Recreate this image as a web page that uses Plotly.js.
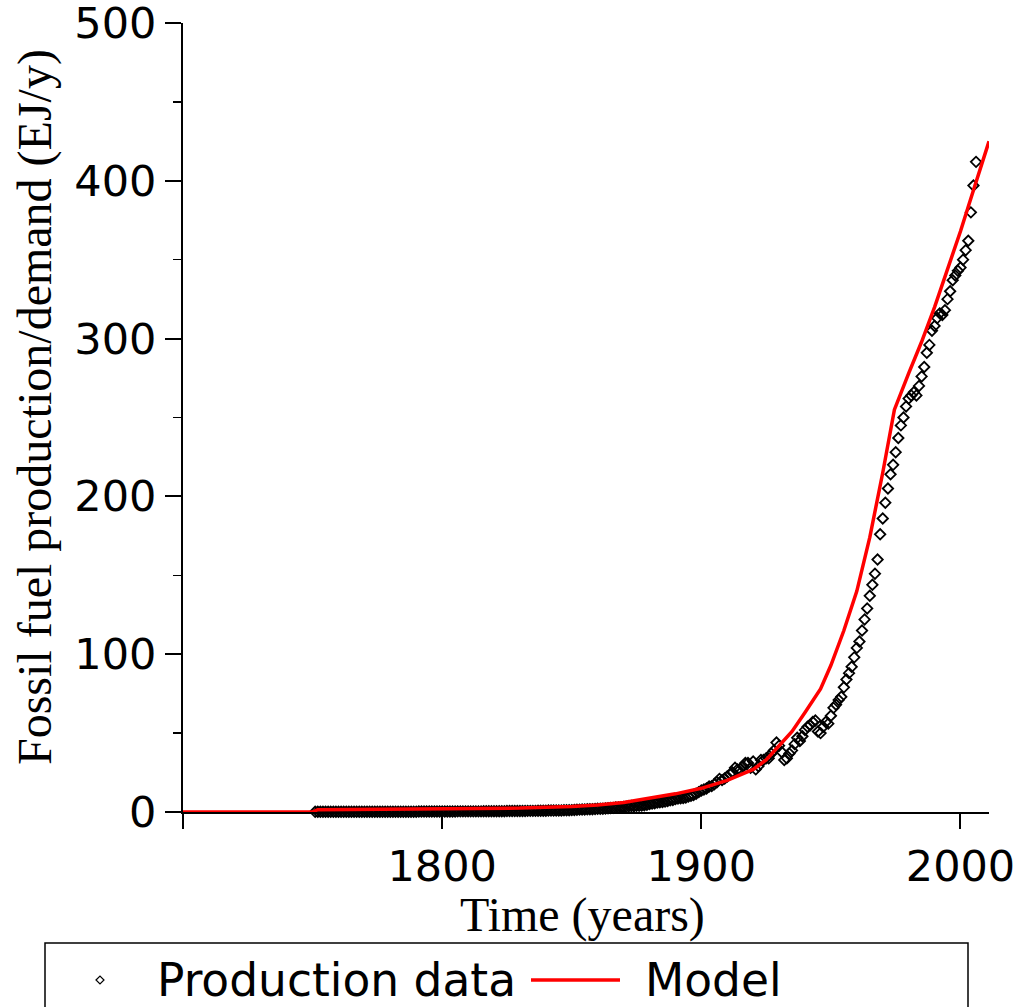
<!DOCTYPE html>
<html>
<head>
<meta charset="utf-8">
<script src="https://cdn.plot.ly/plotly-3.0.1.min.js"></script>
<style>html,body{margin:0;padding:0;background:#fff;}</style>
</head>
<body>
<div id="chart" style="width:1021px;height:1007px;"></div>
<script>
// Production data (EJ/y), annual
const prodYears = [
1751,1752,1753,1754,1755,1756,1757,1758,1759,1760,
1761,1762,1763,1764,1765,1766,1767,1768,1769,1770,
1771,1772,1773,1774,1775,1776,1777,1778,1779,1780,
1781,1782,1783,1784,1785,1786,1787,1788,1789,1790,
1791,1792,1793,1794,1795,1796,1797,1798,1799,1800,
1801,1802,1803,1804,1805,1806,1807,1808,1809,1810,
1811,1812,1813,1814,1815,1816,1817,1818,1819,1820,
1821,1822,1823,1824,1825,1826,1827,1828,1829,1830,
1831,1832,1833,1834,1835,1836,1837,1838,1839,1840,
1841,1842,1843,1844,1845,1846,1847,1848,1849,1850,
1851,1852,1853,1854,1855,1856,1857,1858,1859,1860,
1861,1862,1863,1864,1865,1866,1867,1868,1869,1870,
1871,1872,1873,1874,1875,1876,1877,1878,1879,1880,
1881,1882,1883,1884,1885,1886,1887,1888,1889,1890,
1891,1892,1893,1894,1895,1896,1897,1898,1899,1900,
1901,1902,1903,1904,1905,1906,1907,1908,1909,1910,
1911,1912,1913,1914,1915,1916,1917,1918,1919,1920,
1921,1922,1923,1924,1925,1926,1927,1928,1929,1930,
1931,1932,1933,1934,1935,1936,1937,1938,1939,1940,
1941,1942,1943,1944,1945,1946,1947,1948,1949,1950,
1951,1952,1953,1954,1955,1956,1957,1958,1959,1960,
1961,1962,1963,1964,1965,1966,1967,1968,1969,1970,
1971,1972,1973,1974,1975,1976,1977,1978,1979,1980,
1981,1982,1983,1984,1985,1986,1987,1988,1989,1990,
1991,1992,1993,1994,1995,1996,1997,1998,1999,2000,
2001,2002,2003,2004,2005,2006
];
const prodValues = [
0.1,0.1,0.1,0.1,0.1,0.1,0.1,0.1,0.1,0.1,
0.1,0.1,0.1,0.1,0.1,0.1,0.1,0.1,0.1,0.1,
0.2,0.2,0.2,0.2,0.2,0.2,0.2,0.2,0.2,0.2,
0.2,0.2,0.2,0.2,0.2,0.2,0.2,0.2,0.2,0.2,
0.3,0.3,0.3,0.3,0.3,0.3,0.3,0.3,0.3,0.3,
0.3,0.3,0.3,0.3,0.3,0.4,0.4,0.4,0.4,0.4,
0.4,0.4,0.4,0.4,0.4,0.5,0.5,0.5,0.5,0.5,
0.5,0.5,0.5,0.5,0.6,0.6,0.6,0.6,0.6,0.6,
0.6,0.6,0.7,0.7,0.7,0.7,0.8,0.8,0.8,0.8,
0.9,0.9,0.9,1.0,1.0,1.0,1.1,1.1,1.1,1.2,
1.3,1.4,1.5,1.6,1.6,1.7,1.8,1.8,1.9,2.0,
2.0,2.1,2.2,2.4,2.5,2.6,2.8,2.9,3.0,3.2,
3.4,3.6,3.8,3.7,3.9,4.0,4.1,4.3,4.6,5.0,
5.3,5.6,6.0,6.2,6.3,6.6,7.0,7.5,7.6,8.2,
8.6,8.7,8.8,9.1,9.8,10.3,10.8,11.6,12.6,13.6,
14.2,14.9,16.2,16.4,17.6,18.9,21.0,20.2,21.2,22.5,
24,25,28,27,27,29,31,31,28,32,
27,29,33,33,34,34,37,39,44,42,
38,33,34,37,39,43,47,45,48,52,
54,55,57,58,51,50,54,57,56,61,
66,68,71,73,79,84,88,92,98,104,
108,115,122,129,137,144,151,160,176,186,
196,205,214,220,228,237,245,250,257,262,
264,266,264,270,276,282,291,296,305,308,
313,316,315,318,325,330,337,340,343,345,
350,356,362,380,397,412
];

// Model curve (EJ/y)
const modelYears = [1700,1750,1752,1800,1830,1850,1860,1870,1880,1890,1900,1910,1920,1925,1930,1935,1940,1946,1950,1955,1960,1965,1970,1974.5,1980,1985,1990,1995,2000,2005,2011];
const modelValues = [0,0,1.5,2,2.5,3.5,4.4,6,8.5,11.5,15,20,27,33,42,51,63,78,93,115,140,174,215,255,278,298,320,344,368,394,425];

// Axis ticks
const xTickVals = [1700,1800,1900,2000];
const xTickText = ['','1800','1900','2000'];
const yTickVals = [0,100,200,300,400,500];
const yTickText = ['0','100','200','300','400','500'];

const seriesNames = ['Production data','Model'];
const xTitle = 'Time (years)';
const yTitle = 'Fossil fuel production/demand (EJ/y)';

const L = 183, R = 989, T = 23, B = 812;
const W = R - L, H = B - T;
const px = x => (x - L) / W;
const py = y => (B - y) / H;

const traces = [
  {
    x: prodYears, y: prodValues, name: seriesNames[0],
    type: 'scatter', mode: 'markers', cliponaxis: false,
    marker: {symbol: 'diamond-open', size: 8, color: '#000', line: {width: 1.8, color: '#000'}}
  },
  {
    x: modelYears, y: modelValues, name: seriesNames[1],
    type: 'scatter', mode: 'lines', cliponaxis: false,
    line: {color: '#ff0000', width: 3.5}
  }
];

const tickFont = {family: 'DejaVu Sans', size: 43, color: '#000'};
const titleFont = {family: 'Liberation Serif', size: 48, color: '#000'};
const legFont = {family: 'DejaVu Sans', size: 45.5, color: '#000'};

// custom legend geometry (pixels)
const legCy = 980;
const dcx = px(100), dcy = py(legCy), ddx = 4 / W, ddy = 4 / H;

const layout = {
  width: 1021, height: 1007,
  margin: {l: L, r: 1021 - R, t: T, b: 1007 - B, pad: 0},
  paper_bgcolor: '#fff', plot_bgcolor: '#fff',
  showlegend: false,
  xaxis: {
    range: [1700, 2011], tickvals: xTickVals, ticktext: xTickText,
    ticks: 'outside', ticklen: 15, tickwidth: 2, tickcolor: '#000',
    showline: true, linewidth: 2, linecolor: '#000', ticklabeloverflow: 'allow',
    showgrid: false, zeroline: false, tickfont: tickFont
  },
  yaxis: {
    range: [0, 500], tickvals: yTickVals, ticktext: yTickText,
    ticks: 'outside', ticklen: 16, tickwidth: 2, tickcolor: '#000',
    minor: {dtick: 50, ticks: 'outside', ticklen: 8, tickwidth: 1.5, tickcolor: '#000', showgrid: false},
    showline: true, linewidth: 2, linecolor: '#000', ticklabeloverflow: 'allow',
    showgrid: false, zeroline: false, tickfont: tickFont
  },
  annotations: [
    {text: xTitle, xref: 'paper', yref: 'paper', x: px(582), y: py(915), xanchor: 'center', yanchor: 'middle', showarrow: false, font: titleFont},
    {text: yTitle, xref: 'paper', yref: 'paper', x: px(35), y: py(407), xanchor: 'center', yanchor: 'middle', textangle: -90, showarrow: false, font: titleFont},
    {text: seriesNames[0], xref: 'paper', yref: 'paper', x: px(155), y: py(legCy), xanchor: 'left', yanchor: 'middle', showarrow: false, font: legFont},
    {text: seriesNames[1], xref: 'paper', yref: 'paper', x: px(643), y: py(legCy), xanchor: 'left', yanchor: 'middle', showarrow: false, font: legFont}
  ],
  shapes: [
    {type: 'rect', xref: 'paper', yref: 'paper', x0: px(45), x1: px(968), y0: py(943), y1: py(1030), line: {color: '#000', width: 1.5}, fillcolor: 'rgba(0,0,0,0)'},
    {type: 'line', xref: 'paper', yref: 'paper', x0: px(531), x1: px(620), y0: py(legCy), y1: py(legCy), line: {color: '#ff0000', width: 3.5}},
    {type: 'path', xref: 'paper', yref: 'paper',
     path: `M ${dcx-ddx},${dcy} L ${dcx},${dcy+ddy} L ${dcx+ddx},${dcy} L ${dcx},${dcy-ddy} Z`,
     line: {color: '#000', width: 1.2}, fillcolor: 'rgba(0,0,0,0)'}
  ]
};

Plotly.newPlot('chart', traces, layout, {staticPlot: true, displayModeBar: false});
</script>
</body>
</html>
